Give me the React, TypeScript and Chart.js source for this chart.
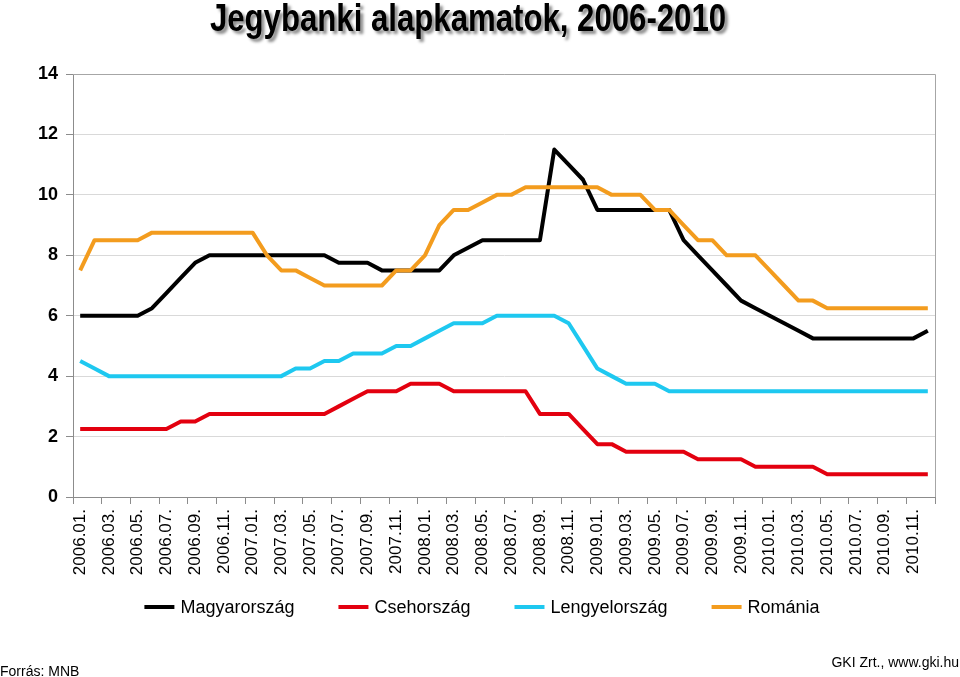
import React, { useEffect, useRef } from "react";
import { Chart, registerables } from "chart.js";

Chart.register(...registerables);

const months: string[] = [
  "2006.01.", "2006.02.", "2006.03.", "2006.04.", "2006.05.", "2006.06.", "2006.07.", "2006.08.", "2006.09.", "2006.10.", "2006.11.", "2006.12.",
  "2007.01.", "2007.02.", "2007.03.", "2007.04.", "2007.05.", "2007.06.", "2007.07.", "2007.08.", "2007.09.", "2007.10.", "2007.11.", "2007.12.",
  "2008.01.", "2008.02.", "2008.03.", "2008.04.", "2008.05.", "2008.06.", "2008.07.", "2008.08.", "2008.09.", "2008.10.", "2008.11.", "2008.12.",
  "2009.01.", "2009.02.", "2009.03.", "2009.04.", "2009.05.", "2009.06.", "2009.07.", "2009.08.", "2009.09.", "2009.10.", "2009.11.", "2009.12.",
  "2010.01.", "2010.02.", "2010.03.", "2010.04.", "2010.05.", "2010.06.", "2010.07.", "2010.08.", "2010.09.", "2010.10.", "2010.11.", "2010.12.",
];

const magyarorszag: number[] = [
  6, 6, 6, 6, 6, 6.25, 6.75, 7.25, 7.75, 8, 8, 8,
  8, 8, 8, 8, 8, 8, 7.75, 7.75, 7.75, 7.5, 7.5, 7.5,
  7.5, 7.5, 8, 8.25, 8.5, 8.5, 8.5, 8.5, 8.5, 11.5, 11, 10.5,
  9.5, 9.5, 9.5, 9.5, 9.5, 9.5, 8.5, 8, 7.5, 7, 6.5, 6.25,
  6, 5.75, 5.5, 5.25, 5.25, 5.25, 5.25, 5.25, 5.25, 5.25, 5.25, 5.5,
];

const csehorszag: number[] = [
  2.25, 2.25, 2.25, 2.25, 2.25, 2.25, 2.25, 2.5, 2.5, 2.75, 2.75, 2.75,
  2.75, 2.75, 2.75, 2.75, 2.75, 2.75, 3, 3.25, 3.5, 3.5, 3.5, 3.75,
  3.75, 3.75, 3.5, 3.5, 3.5, 3.5, 3.5, 3.5, 2.75, 2.75, 2.75, 2.25,
  1.75, 1.75, 1.5, 1.5, 1.5, 1.5, 1.5, 1.25, 1.25, 1.25, 1.25, 1,
  1, 1, 1, 1, 0.75, 0.75, 0.75, 0.75, 0.75, 0.75, 0.75, 0.75,
];

const lengyelorszag: number[] = [
  4.5, 4.25, 4, 4, 4, 4, 4, 4, 4, 4, 4, 4,
  4, 4, 4, 4.25, 4.25, 4.5, 4.5, 4.75, 4.75, 4.75, 5, 5,
  5.25, 5.5, 5.75, 5.75, 5.75, 6, 6, 6, 6, 6, 5.75, 5,
  4.25, 4, 3.75, 3.75, 3.75, 3.5, 3.5, 3.5, 3.5, 3.5, 3.5, 3.5,
  3.5, 3.5, 3.5, 3.5, 3.5, 3.5, 3.5, 3.5, 3.5, 3.5, 3.5, 3.5,
];

const romania: number[] = [
  7.5, 8.5, 8.5, 8.5, 8.5, 8.75, 8.75, 8.75, 8.75, 8.75, 8.75, 8.75,
  8.75, 8, 7.5, 7.5, 7.25, 7, 7, 7, 7, 7, 7.5, 7.5,
  8, 9, 9.5, 9.5, 9.75, 10, 10, 10.25, 10.25, 10.25, 10.25, 10.25,
  10.25, 10, 10, 10, 9.5, 9.5, 9, 8.5, 8.5, 8, 8, 8,
  7.5, 7, 6.5, 6.5, 6.25, 6.25, 6.25, 6.25, 6.25, 6.25, 6.25, 6.25,
];

const seriesNames = ["Magyarország", "Csehország", "Lengyelország", "Románia"];
const seriesColors = ["#000000", "#e3000f", "#1ec8f0", "#f39c1e"];

const titleText = "Jegybanki alapkamatok, 2006-2010";
const sourceText = "Forrás: MNB";
const creditText = "GKI Zrt., www.gki.hu";

const SANS = '"Liberation Sans", Arial, sans-serif';

const decorPlugin = {
  id: "decor",
  afterDraw(chart: any) {
    const ctx = chart.ctx as CanvasRenderingContext2D;
    const area = chart.chartArea;
    ctx.save();
    // plot border top/right
    ctx.strokeStyle = "#a6a6a6";
    ctx.lineWidth = 1;
    ctx.beginPath();
    ctx.moveTo(area.left, Math.round(area.top) + 0.5);
    ctx.lineTo(Math.round(area.right) + 0.5, Math.round(area.top) + 0.5);
    ctx.lineTo(Math.round(area.right) + 0.5, area.bottom);
    ctx.stroke();

    // title with shadow, horizontally condensed
    ctx.save();
    ctx.translate(468, 31);
    ctx.scale(0.82, 1);
    ctx.font = `bold 38px ${SANS}`;
    ctx.textAlign = "center";
    ctx.textBaseline = "alphabetic";
    ctx.shadowColor = "rgba(0,0,0,0.45)";
    ctx.shadowOffsetX = 3;
    ctx.shadowOffsetY = 3;
    ctx.shadowBlur = 3;
    ctx.fillStyle = "#000";
    ctx.fillText(titleText, 0, 0);
    ctx.restore();

    // legend
    ctx.font = `18px ${SANS}`;
    ctx.textAlign = "left";
    ctx.textBaseline = "middle";
    const lineLen = 30;
    const gapText = 6;
    const gapItem = 44;
    const widths = seriesNames.map((n) => ctx.measureText(n).width);
    const total = widths.reduce((a, w) => a + lineLen + gapText + w, 0) + gapItem * (seriesNames.length - 1);
    let x = 482 - total / 2;
    const ly = 607;
    seriesNames.forEach((n, i) => {
      ctx.strokeStyle = seriesColors[i];
      ctx.lineWidth = 4;
      ctx.beginPath();
      ctx.moveTo(x, ly);
      ctx.lineTo(x + lineLen, ly);
      ctx.stroke();
      ctx.fillStyle = "#000";
      ctx.fillText(n, x + lineLen + gapText, ly + 1);
      x += lineLen + gapText + widths[i] + gapItem;
    });

    // footer
    ctx.font = `14px ${SANS}`;
    ctx.textBaseline = "alphabetic";
    ctx.textAlign = "left";
    ctx.fillText(sourceText, 0, 676);
    ctx.textAlign = "right";
    ctx.fillText(creditText, 959, 667);
    ctx.restore();
  },
};

export default function App() {
  const canvasRef = useRef<HTMLCanvasElement | null>(null);

  useEffect(() => {
    const canvas = canvasRef.current;
    if (!canvas) return;
    const data = [magyarorszag, csehorszag, lengyelorszag, romania];
    const chart = new Chart(canvas, {
      type: "line",
      data: {
        labels: months,
        datasets: seriesNames.map((name, i) => ({
          label: name,
          data: data[i],
          borderColor: seriesColors[i],
          backgroundColor: seriesColors[i],
          borderWidth: 4,
          pointRadius: 0,
          tension: 0,
          fill: false,
          order: 4 - i,
          borderJoinStyle: "round" as const,
        })),
      },
      options: {
        responsive: false,
        animation: false,
        devicePixelRatio: 1,
        layout: { padding: { left: 0, right: 25, top: 74, bottom: 90 } },
        plugins: {
          legend: { display: false },
          title: { display: false },
          tooltip: { enabled: false },
        },
        scales: {
          x: {
            type: "category",
            offset: true,
            grid: {
              offset: true,
              drawOnChartArea: false,
              drawTicks: true,
              tickLength: 7,
              color: (c: any) => (c.index === undefined || c.index % 2 === 0 ? "#8c8c8c" : "rgba(0,0,0,0)"),
            },
            border: { color: "#8c8c8c", width: 1 },
            ticks: {
              autoSkip: false,
              maxRotation: 90,
              minRotation: 90,
              padding: 5,
              color: "#000",
              font: { family: SANS, size: 17 },
              callback: (_v: any, i: number) => (i % 2 === 0 ? months[i] : ""),
            },
            afterFit: (scale: any) => {
              scale.height = 90;
            },
          },
          y: {
            min: 0,
            max: 14,
            ticks: {
              stepSize: 2,
              padding: 8,
              color: "#000",
              font: { family: SANS, size: 18, weight: "bold" },
            },
            grid: {
              color: "#d9d9d9",
              tickColor: "#8c8c8c",
              tickLength: 7,
              drawTicks: true,
            },
            border: { color: "#8c8c8c", width: 1 },
            afterFit: (scale: any) => {
              scale.width = 73;
            },
          },
        },
      },
      plugins: [decorPlugin],
    });
    return () => chart.destroy();
  }, []);

  return (
    <canvas
      ref={canvasRef}
      width={960}
      height={677}
      style={{ position: "absolute", left: 0, top: 0, width: 960, height: 677, display: "block", background: "#fff" }}
    />
  );
}
